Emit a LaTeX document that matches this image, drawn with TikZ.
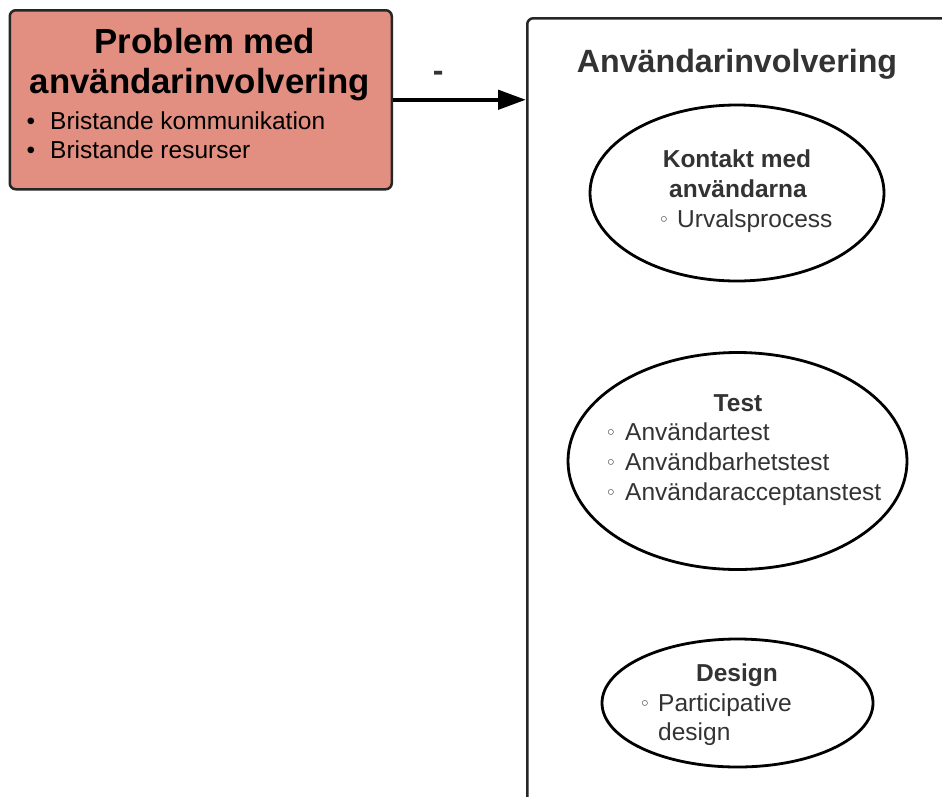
\documentclass[tikz,border=0pt]{standalone}
\usepackage{fontspec}
\setmainfont{Liberation Sans}
\newfontfamily\symfont{DejaVu Sans}
\usetikzlibrary{arrows.meta,shapes.geometric}
\definecolor{salmon}{HTML}{E28E80}
\definecolor{txtgray}{HTML}{333333}
\begin{document}
\begin{tikzpicture}[x=1pt,y=-1pt,
  redtitle/.style={font=\fontsize{34.8}{40}\selectfont\bfseries, anchor=base, inner sep=0, text=black},
  redtxt/.style={font=\fontsize{24.5}{30}\selectfont, anchor=base west, inner sep=0, text=black},
  redbul/.style={font=\fontsize{24.5}{30}\selectfont, anchor=base, inner sep=0, text=black},
  bigtitle/.style={font=\fontsize{32.2}{38}\selectfont\bfseries, anchor=base, inner sep=0, text=txtgray},
  elltitle/.style={font=\fontsize{24.5}{30}\selectfont\bfseries, anchor=base, inner sep=0, text=txtgray},
  elltxt/.style={font=\fontsize{24.5}{30}\selectfont, anchor=base west, inner sep=0, text=txtgray},
  ellbul/.style={font=\fontsize{19}{22}\selectfont\symfont, anchor=base, inner sep=0, text=txtgray},
  bubble/.style={ellipse, draw=black, line width=2.8pt, inner sep=0},
]
\useasboundingbox (0,0) rectangle (942,796);
\clip (0,0) rectangle (942,796);
\fill[white] (0,0) rectangle (942,796);

% red box
\node[draw=black!85, line width=2.5pt, fill=salmon, rounded corners=6pt,
      minimum width=382pt, minimum height=179pt, inner sep=0, anchor=north west] (redbox) at (8.5,9) {};
\node[redtitle] (rt1) at (205,53) {Problem med};
\node[redtitle] (rt2) at (200,93) {användarinvolvering};
\node[redbul] (rb1) at (31,129) {•};
\node[redtxt] (ri1) at (50,129) {Bristande kommunikation};
\node[redbul] (rb2) at (31,158) {•};
\node[redtxt] (ri2) at (50,158) {Bristande resurser};

% big box
\node[draw=black!85, line width=2.5pt, fill=white, rounded corners=6pt,
      minimum width=450pt, minimum height=830pt, inner sep=0, anchor=north west] (bigbox) at (526,17) {};
\node[bigtitle] (bt) at (737,72) {Användarinvolvering};

% arrow
\draw[line width=4.5pt, -{Triangle[length=28pt,width=19pt]}]
  (redbox.east) -- node[pos=0.34, above=16pt, font=\fontsize{32}{38}\selectfont\bfseries, text=txtgray, inner sep=0] (minus) {-}
  (redbox.east -| bigbox.west);

% ellipse 1
\node[bubble, minimum width=294pt, minimum height=176pt] (e1) at (737,193) {};
\node[elltitle] (e1t1) at (737,167) {Kontakt med};
\node[elltitle] (e1t2) at (738,197) {användarna};
\node[ellbul] (e1b) at (664,226) {◦};
\node[elltxt] (e1i) at (677,227) {Urvalsprocess};

% ellipse 2
\node[bubble, minimum width=339pt, minimum height=217pt] (e2) at (737.5,461) {};
\node[elltitle] (e2t) at (738,411) {Test};
\node[ellbul] (e2b1) at (611,439) {◦};
\node[elltxt] (e2i1) at (625,440) {Användartest};
\node[ellbul] (e2b2) at (611,469) {◦};
\node[elltxt] (e2i2) at (625,470) {Användbarhetstest};
\node[ellbul] (e2b3) at (611,499) {◦};
\node[elltxt] (e2i3) at (625,500) {Användaracceptanstest};

% ellipse 3
\node[bubble, minimum width=271pt, minimum height=128pt] (e3) at (737.5,703) {};
\node[elltitle] (e3t) at (737,681) {Design};
\node[ellbul] (e3b) at (645,710) {◦};
\node[elltxt] (e3i1) at (658,711) {Participative};
\node[elltxt] (e3i2) at (658,740) {design};
\end{tikzpicture}
\end{document}
